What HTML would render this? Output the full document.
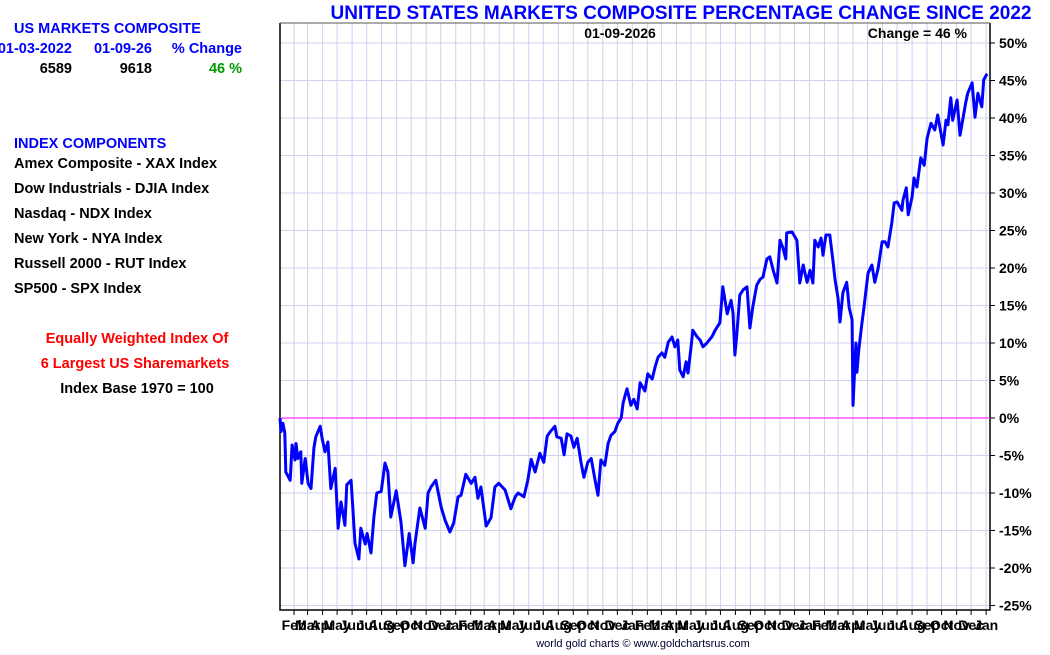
<!DOCTYPE html>
<html><head><meta charset="utf-8"><style>
html,body{margin:0;padding:0;background:#fff;}
svg text{font-family:"Liberation Sans",Arial,sans-serif;font-weight:bold;}
</style></head><body>
<svg id="chart" width="1050" height="650" viewBox="0 0 1050 650" xmlns="http://www.w3.org/2000/svg">
<g>
<text x="14" y="33" font-size="14.5" fill="#0000ff">US MARKETS COMPOSITE</text>
<text x="72" y="53" font-size="14.5" fill="#0000ff" text-anchor="end">01-03-2022</text>
<text x="152" y="53" font-size="14.5" fill="#0000ff" text-anchor="end">01-09-26</text>
<text x="242" y="53" font-size="14.5" fill="#0000ff" text-anchor="end">% Change</text>
<text x="72" y="73" font-size="14.5" fill="#000" text-anchor="end">6589</text>
<text x="152" y="73" font-size="14.5" fill="#000" text-anchor="end">9618</text>
<text x="242" y="73" font-size="14.5" fill="#009900" text-anchor="end">46 %</text>
<text x="14" y="148" font-size="14.5" fill="#0000ff">INDEX COMPONENTS</text>
<text x="14" y="168" font-size="14.5" fill="#000">Amex Composite - XAX Index</text>
<text x="14" y="193" font-size="14.5" fill="#000">Dow Industrials - DJIA Index</text>
<text x="14" y="218" font-size="14.5" fill="#000">Nasdaq - NDX Index</text>
<text x="14" y="243" font-size="14.5" fill="#000">New York - NYA Index</text>
<text x="14" y="268" font-size="14.5" fill="#000">Russell 2000 - RUT Index</text>
<text x="14" y="293" font-size="14.5" fill="#000">SP500 - SPX Index</text>
<text x="137" y="343" font-size="14.5" fill="#ff0000" text-anchor="middle">Equally Weighted Index Of</text>
<text x="135" y="368" font-size="14.5" fill="#ff0000" text-anchor="middle">6 Largest US Sharemarkets</text>
<text x="137" y="393" font-size="14.5" fill="#000" text-anchor="middle">Index Base 1970 = 100</text>
</g>
<text x="681" y="19" font-size="19" fill="#0000ff" text-anchor="middle">UNITED STATES MARKETS COMPOSITE PERCENTAGE CHANGE SINCE 2022</text>
<g id="grid"></g>
<g id="axes"></g>
<g id="series"></g>
<text x="620" y="38" font-size="14" fill="#000" text-anchor="middle">01-09-2026</text>
<text x="967" y="38" font-size="14" fill="#000" text-anchor="end">Change = 46 %</text>
<text x="643" y="647" font-size="11" fill="#000033" style="font-weight:normal" text-anchor="middle">world gold charts © www.goldchartsrus.com</text>
</svg>
<script>
const yTicks=[-25,-20,-15,-10,-5,0,5,10,15,20,25,30,35,40,45,50];
const monthNames=["Jan","Feb","Mar","Apr","May","Jun","Jul","Aug","Sep","Oct","Nov","Dec"];
const days=[0,2,6,10,12,21,25,31,33,37,43,45,52,58,64,70,74,83,87,93,99,105,114,120,126,134,138,147,155,163,167,176,180,188,194,200,209,217,223,229,240,250,258,267,275,279,289,300,306,312,322,333,341,351,359,368,374,384,395,403,409,415,426,436,444,452,465,477,486,492,504,512,519,527,537,545,552,560,568,572,581,587,593,601,607,614,622,628,636,643,651,657,663,671,678,684,692,698,705,709,713,717,725,731,738,744,754,760,769,775,781,789,795,802,810,816,822,826,833,839,843,849,853,862,868,874,882,893,899,909,915,924,932,936,940,944,950,957,965,971,977,985,992,998,1006,1012,1019,1027,1033,1039,1045,1047,1058,1068,1074,1081,1089,1095,1101,1105,1112,1118,1122,1128,1136,1143,1147,1153,1157,1163,1171,1176,1182,1184,1190,1192,1196,1202,1207,1215,1223,1229,1236,1244,1250,1256,1264,1269,1275,1285,1287,1294,1298,1306,1310,1316,1324,1331,1337,1345,1353,1359,1370,1376,1380,1386,1390,1399,1405,1417,1421,1430,1436,1442,1450,1454,1461,1463];
const pct=[0,-1.8,-0.7,-2,-7.2,-8.3,-3.6,-5.6,-3.4,-5.4,-4.5,-8.7,-5.4,-8.7,-9.4,-4,-2.5,-1.1,-2.7,-4.5,-3.2,-9.4,-6.7,-14.7,-11.2,-14.3,-8.9,-8.3,-16.7,-18.8,-14.7,-16.8,-15.4,-18,-13.2,-10,-9.8,-6,-7.2,-13.2,-9.7,-13.9,-19.7,-15.4,-19.3,-16.7,-12,-14.7,-10,-9.2,-8.3,-11.9,-13.6,-15.2,-14,-10.5,-10.3,-7.5,-8.7,-7.9,-10.7,-9.2,-14.4,-13.3,-9.2,-8.7,-9.6,-12.1,-10.5,-10,-10.5,-8.3,-5.5,-7.2,-4.7,-5.9,-2.4,-1.7,-1.1,-2.5,-2.7,-4.9,-2.1,-2.4,-3.9,-2.7,-5.9,-7.9,-5.9,-5.4,-8.3,-10.3,-5.6,-6.3,-3.4,-2.3,-1.8,-0.7,0,2,3,3.9,1.7,2.5,1.2,4.7,3.6,5.9,5.2,6.8,8.1,8.7,8.1,10.1,10.8,9.5,10.4,6.4,5.5,7.5,6,9.3,11.7,10.8,10.4,9.5,10,10.9,11.7,12.7,17.5,13.9,15.7,14,8.4,11.3,16.4,17.1,17.5,12,14.8,17.7,18.5,18.8,21.2,21.5,19.7,18,23.7,22.7,21.2,24.7,24.8,23.7,18,20.4,18.1,19.7,18,23.7,22.8,24,21.7,24.4,24.4,20.7,18.4,16,12.8,16.7,18.1,14.7,13.1,1.7,10,6.1,9.1,12.4,15,19.3,20.4,18.1,20,23.5,23.5,22.8,26,28.7,28.8,27.7,29,30.7,27.1,29.5,32,30.8,34.7,33.7,37.3,39.3,38.4,40.4,36.4,39.7,39.1,42.7,39.7,42.4,37.7,42.1,43.3,44.7,40.1,43.3,41.5,45.1,45.9];

const L=280,R=990,T=23,B=610,totalDays=1467;
const xs=d=>L+(d/totalDays)*(R-L);
const ys=v=>418-v*7.5;
const NS="http://www.w3.org/2000/svg";
function mk(tag,parent,attrs){const e=document.createElementNS(NS,tag);for(const k in attrs)e.setAttribute(k,attrs[k]);parent.appendChild(e);return e;}
const gridG=document.getElementById('grid'),axesG=document.getElementById('axes'),seriesG=document.getElementById('series');
yTicks.forEach(v=>{
  const g=mk('line',gridG,{x1:L,x2:R,y1:ys(v),y2:ys(v),stroke:'#d0d0f0','stroke-width':1});
  
  
  const t=mk('line',axesG,{x1:R,x2:R+5,y1:ys(v),y2:ys(v),stroke:'#000','stroke-width':1});
  
  
  const lb=mk('text',axesG,{x:R+9,y:ys(v)+5,'font-size':14,fill:'#000'});
  lb.textContent=v+'%';
  
  
});
const startMs=Date.UTC(2022,0,3);
for(let m=1;m<=48;m++){
  const yr=2022+Math.floor(m/12),mo=m%12;
  const d=(Date.UTC(yr,mo,1)-startMs)/86400000;
  if(d>totalDays)break;
  const xx=xs(d);
  const g=mk('line',gridG,{x1:xx,x2:xx,y1:T,y2:B,stroke:'#d0d0f0','stroke-width':1});
  
  
  const t=mk('line',axesG,{x1:xx,x2:xx,y1:B,y2:B+5,stroke:'#000','stroke-width':1});
  
  
  const lb=mk('text',axesG,{x:xx,y:B+20,'font-size':14,fill:'#000','text-anchor':'middle'});
  lb.textContent=monthNames[mo];
  
  
}
const zl=mk('line',seriesG,{x1:L,x2:R,y1:ys(0),y2:ys(0),stroke:'#ff33ff','stroke-width':1.2});


const frame=mk('path',axesG,{d:`M${L},${T}V${B}H${R}V${T}`,fill:'none',stroke:'#000','stroke-width':1.5});


const topBorder=mk('line',axesG,{x1:L,x2:R,y1:T,y2:T,stroke:'#555','stroke-width':1});


const pts=days.map((d,i)=>xs(d).toFixed(1)+','+ys(pct[i]).toFixed(1)).join(' ');
const pl=mk('polyline',seriesG,{points:pts,fill:'none',stroke:'#0000ff','stroke-width':3,'stroke-linejoin':'round'});


</script>
</body></html>
